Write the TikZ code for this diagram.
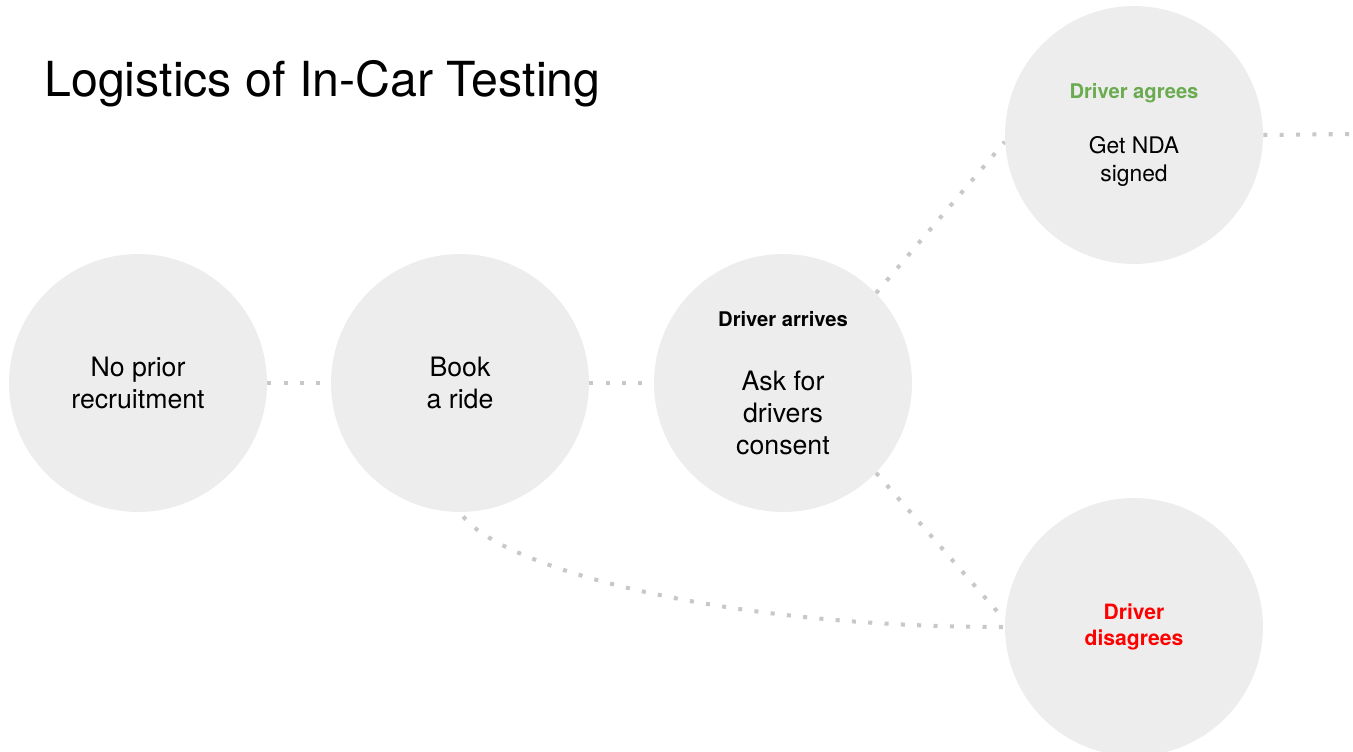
\documentclass[tikz,border=0pt]{standalone}
\usepackage{fontspec}
\setmainfont{TeX Gyre Heros}
\usetikzlibrary{backgrounds}
\definecolor{bubblegray}{HTML}{EDEDED}
\definecolor{dotgray}{HTML}{C8C8C8}
\definecolor{agreegreen}{HTML}{6AAB4F}
\definecolor{disagreered}{HTML}{FF0000}
\newcommand{\titlefont}{\fontsize{27.5pt}{33pt}\selectfont}
\newcommand{\bodyfont}{\fontsize{15.2pt}{18.2pt}\selectfont}
\newcommand{\smallbodyfont}{\fontsize{13pt}{15.9pt}\selectfont}
\newcommand{\tagfont}{\bfseries\fontsize{11.5pt}{13pt}\selectfont}
\newcommand{\redtagfont}{\bfseries\fontsize{12pt}{14.7pt}\selectfont}
\tikzset{
  bubble/.style={circle,fill=bubblegray,minimum size=5.16cm,inner sep=0pt,align=center,font=\bodyfont},
  dotline/.style={draw=dotgray,line width=2.3pt,dash pattern=on 2.3pt off 7pt}
}
\begin{document}
\begin{tikzpicture}[x=0.02cm,y=-0.02cm]
  \useasboundingbox (0,0) rectangle (1353,751);
  \node[anchor=base west,font=\titlefont,inner sep=0pt] (title) at (44,96) {Logistics of In-Car Testing};
  \node[bubble] (norecruit) at (138,383) {No prior\\recruitment};
  \node[bubble] (bookride) at (460,383) {Book\\a ride};
  \node[bubble] (arrives) at (783,383) {{\tagfont Driver arrives}\\[18.5pt]Ask for\\drivers\\consent};
  \node[bubble,font=\smallbodyfont] (agrees) at (1134,135)
    {{\tagfont\color{agreegreen}Driver agrees}\\[15.3pt]Get NDA\\signed};
  \node[bubble,font=\redtagfont,text=disagreered] (disagrees) at (1134,627) {Driver\\disagrees};
  \coordinate (exit) at (1353,134);
  % dotted connectors behind the bubbles
  \begin{scope}[on background layer]
    \draw[dotline] (norecruit) -- (bookride);
    \draw[dotline] (bookride) -- (arrives);
    \draw[dotline] (arrives.44) -- (agrees.183);
    \draw[dotline] (arrives.-44) -- (disagrees.177);
    \draw[dotline,shorten <=3pt] (bookride.south) .. controls +(40,52) and +(-300,0) .. (disagrees.west);
    \draw[dotline] (agrees.east) -- (exit);
  \end{scope}
\end{tikzpicture}
\end{document}
